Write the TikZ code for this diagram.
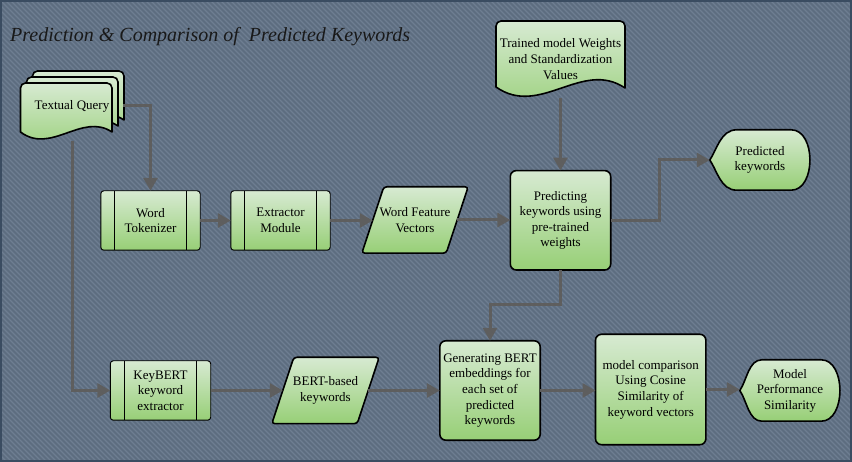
\documentclass[tikz,border=0pt]{standalone}
\usepackage{fontspec}
\setmainfont{Liberation Serif}
\usetikzlibrary{arrows.meta,calc}
\definecolor{bgbase}{HTML}{5D6D80}
\definecolor{bgstripe}{HTML}{6E7E92}
\definecolor{bgedge}{HTML}{3A4C61}
\definecolor{gtop}{HTML}{D7EAD2}
\definecolor{gbot}{HTML}{97CF76}
\definecolor{conncol}{HTML}{5E5E5E}
\pgfdeclarelayer{bg}
\pgfdeclarelayer{shp}
\pgfsetlayers{bg,shp,main}
\begin{document}
\begin{tikzpicture}[x=1pt,y=-1pt,
  lbl/.style={inner sep=0pt, align=center, text=black, font=\fontsize{13}{15.6}\selectfont},
  fillshape/.style={draw=black, line width=1.6pt, top color=gtop, bottom color=gbot, line join=round},
  thinshape/.style={draw=black, line width=0.9pt, top color=gtop, bottom color=gbot},
  conn/.style={draw=conncol, line width=3pt, -{Triangle[length=13pt,width=14pt]}}
]
\useasboundingbox (0,0) rectangle (852,462);

% background
\begin{pgfonlayer}{bg}
\fill[bgbase] (0,0) rectangle (852,462);
\begin{scope}
\clip (0,0) rectangle (852,462);
\foreach \i in {-470,-465,...,855} \draw[bgstripe, line width=1.3pt] (\i,0) -- ++(470,470);
\end{scope}
\draw[bgedge, line width=2pt] (1,1) rectangle (851,461);
\end{pgfonlayer}

% title
\node[anchor=base west, inner sep=0pt, font=\fontsize{20}{24}\selectfont\itshape, text=black!90] (title) at (10,42) {Prediction \& Comparison of\ \ Predicted Keywords};

% nodes
\node[lbl] (tq) at (72,106) {Textual Query};
\node[lbl] (tm) at (560.5,59) {Trained model Weights\\and Standardization\\Values};
\node[lbl, minimum width=99pt, minimum height=59pt] (wt) at (150.5,220.5) {Word\\Tokenizer};
\node[lbl, minimum width=99pt, minimum height=59pt] (em) at (280.5,220.5) {Extractor\\Module};
\node[lbl, minimum width=84pt, minimum height=66pt] (wfv) at (415,220) {Word Feature\\Vectors};
\node[lbl, minimum width=100pt, minimum height=99pt] (pr) at (560.5,220.3) {Predicting\\keywords using\\pre-trained\\weights};
\node[lbl, minimum width=100pt, minimum height=60pt] (pk) at (760,160) {Predicted\\keywords};
\node[lbl, minimum width=100pt, minimum height=59pt] (kb) at (160.5,390.5) {KeyBERT\\keyword\\extractor};
\node[lbl, minimum width=85pt, minimum height=66pt] (bb) at (325.5,390.5) {BERT-based\\keywords};
\node[lbl, minimum width=100pt, minimum height=99pt] (gen) at (490,390.5) {Generating BERT\\embeddings for\\each set of\\predicted\\keywords};
\node[lbl, minimum width=110pt, minimum height=110pt] (mc) at (650.7,389.5) {model comparison\\Using Cosine\\Similarity of\\keyword vectors};
\node[lbl, minimum width=100pt, minimum height=61pt] (mps) at (790,390.5) {Model\\Performance\\Similarity};

% shapes
\begin{pgfonlayer}{shp}
% multi-document
\foreach \dx/\dy in {12/-12,6/-6,0/0}{
\begin{scope}[shift={(\dx,\dy)}]
\path[fillshape] (20.5,132) -- (20.5,88) arc[start angle=180,end angle=270,radius=5] -- (107,83)
  arc[start angle=270,end angle=360,radius=5] -- (112,132)
  .. controls (82,112) and (51,155) .. (20.5,132) -- cycle;
\end{scope}}
% document
\path[fillshape] (496,87) -- (496,26) arc[start angle=180,end angle=270,radius=5] -- (620,21)
  arc[start angle=270,end angle=360,radius=5] -- (625,88)
  .. controls (582,59) and (540,118) .. (496,87) -- cycle;
% predefined processes
\foreach \n in {wt,em,kb}{
\path[thinshape, rounded corners=3pt] (\n.north west) rectangle (\n.south east);
\draw[line width=0.9pt] ($(\n.north west)+(14,0)$) -- ($(\n.south west)+(14,0)$);
\draw[line width=0.9pt] ($(\n.north east)+(-14,0)$) -- ($(\n.south east)+(-14,0)$);
}
% rounded process boxes
\foreach \n in {pr,gen,mc}
\path[fillshape, rounded corners=6pt] (\n.north west) rectangle (\n.south east);
% parallelograms
\foreach \n in {wfv,bb}
\path[fillshape, rounded corners=3pt] ($(\n.south west)+(-11,0)$) -- ($(\n.north west)+(11,0)$)
  -- ($(\n.north east)+(11,0)$) -- ($(\n.south east)+(-11,0)$) -- cycle;
% displays
\foreach \n/\l in {pk/27,mps/22}
\path[fillshape] ($(\n.north west)+(\l,0)$) -- ($(\n.north east)+(-19,0)$)
  .. controls ($(\n.north east)+(6,0)$) and ($(\n.south east)+(6,0)$) .. ($(\n.south east)+(-19,0)$)
  -- ($(\n.south west)+(\l,0)$)
  .. controls ($(\n.south west)+(0.4*\l,0)$) and ($(\n.west)+(7,10)$) .. (\n.west)
  .. controls ($(\n.west)+(7,-10)$) and ($(\n.north west)+(0.4*\l,0)$) .. ($(\n.north west)+(\l,0)$) -- cycle;
\end{pgfonlayer}

% connectors
\coordinate (tqR) at (123,106);
\coordinate (tqB) at (72,141);
\coordinate (tmB) at (560.5,98);
\draw[conn] (tqR) -| (wt.north);
\draw[conn] (tqB) |- (kb.west);
\draw[conn] (wt.east) -- (em.west);
\draw[conn] (em.east) -- (em.east -| wfv.west);
\draw[conn] (wfv.east) -- (wfv.east -| pr.west);
\draw[conn] (tmB) -- (pr.north);
\draw[conn] (pr.east) -- ++(49,0) |- (pk.west);
\draw[conn] (pr.south) -- ++(0,35) -| (gen.north);
\draw[conn] (kb.east) -- (kb.east -| bb.west);
\draw[conn] (bb.east) -- (bb.east -| gen.west);
\draw[conn] (gen.east) -- (gen.east -| mc.west);
\draw[conn] (mc.east) -- (mc.east -| mps.west);
\end{tikzpicture}
\end{document}
